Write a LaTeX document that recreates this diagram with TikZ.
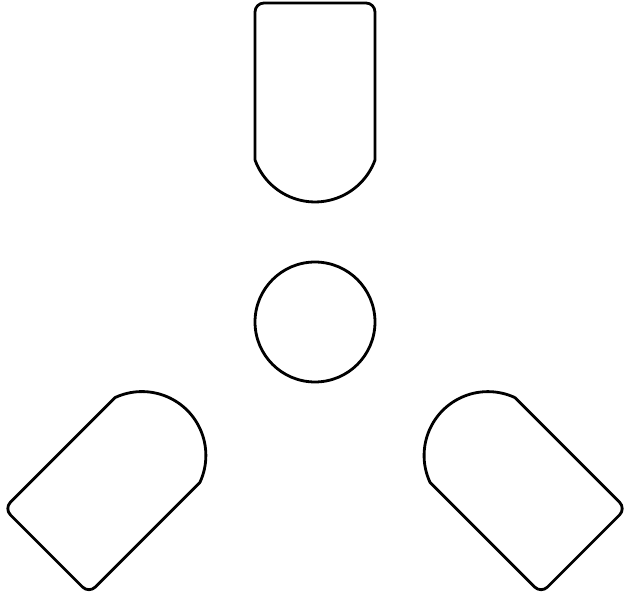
\documentclass[tikz,border=0pt]{standalone}
\usetikzlibrary{positioning}

\begin{document}
\begin{tikzpicture}[
    x=0.02cm, y=0.02cm,
    blade/.style={draw, line width=1.6pt, line join=round},
    hubring/.style={draw, circle, line width=1.6pt, minimum size=2.4cm,
                    inner sep=0pt}
  ]
  \useasboundingbox (0,0) rectangle (632,598);

  % centre ring
  \node[hubring] (hub) at (315,276) {};

  % three blades: flat end shift / turn
  \foreach \px/\py/\ang in {315/595/0, 46.5/47/135, 583.5/47/-135} {
    \draw[blade, shift={(\px,\py)}, rotate=\ang]
      (-60,-157) {[rounded corners=0.18cm] -- (-60,0) -- (60,0)} -- (60,-157)
      arc[start angle=-20.06, end angle=-159.94, radius=63.86] -- cycle;
  }
\end{tikzpicture}
\end{document}
